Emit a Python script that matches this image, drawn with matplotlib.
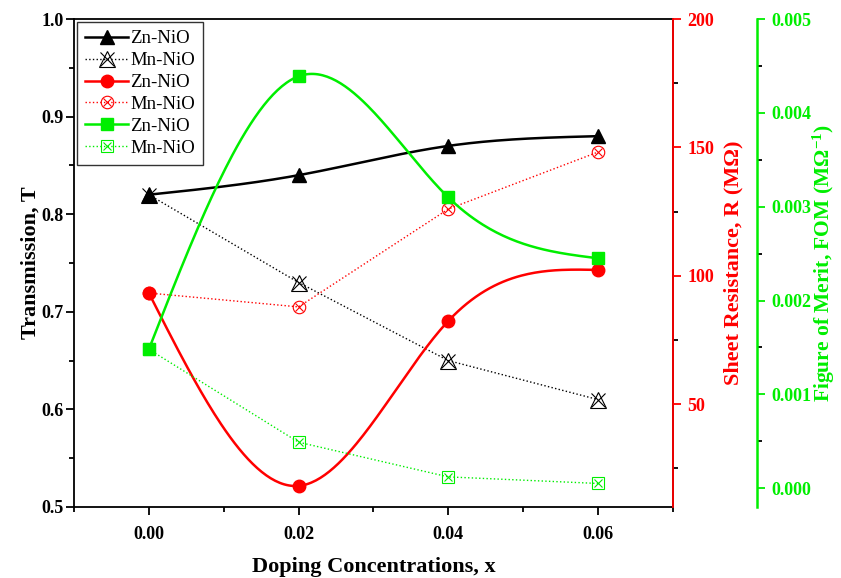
import numpy as np
import matplotlib
matplotlib.use("Agg")
import matplotlib.pyplot as plt
from matplotlib.ticker import MultipleLocator, FormatStrFormatter
from matplotlib.legend_handler import HandlerTuple

plt.rcParams['font.family'] = ['Liberation Serif', 'DejaVu Serif']
plt.rcParams['mathtext.fontset'] = 'custom'
plt.rcParams['mathtext.rm'] = 'Liberation Serif:bold'
plt.rcParams['mathtext.it'] = 'Liberation Serif:bold'
plt.rcParams['mathtext.bf'] = 'Liberation Serif:bold'

# data
x = [0.00, 0.02, 0.04, 0.06]
T_zn = [0.82, 0.84, 0.87, 0.88]
T_mn = [0.82, 0.73, 0.65, 0.61]
R_zn = [93.3, 18.2, 82.4, 102.3]
R_mn = [93.3, 87.9, 126.0, 148.2]
F_zn = [0.00148, 0.00439, 0.00310, 0.00245]
F_mn = [0.00148, 0.00049, 0.00012, 0.00005]

GREEN = '#00ee00'


def spline(xs, ys, n=200):
    # natural cubic spline, for the smooth connecting lines
    xs = np.asarray(xs, float); ys = np.asarray(ys, float)
    k = len(xs); h = np.diff(xs)
    A = np.zeros((k, k)); b = np.zeros(k)
    A[0, 0] = A[-1, -1] = 1
    for i in range(1, k - 1):
        A[i, i - 1] = h[i - 1]; A[i, i] = 2 * (h[i - 1] + h[i]); A[i, i + 1] = h[i]
        b[i] = 6 * ((ys[i + 1] - ys[i]) / h[i] - (ys[i] - ys[i - 1]) / h[i - 1])
    M = np.linalg.solve(A, b)
    xx = np.linspace(xs[0], xs[-1], n)
    idx = np.clip(np.searchsorted(xs, xx) - 1, 0, k - 2)
    x0, x1, hh = xs[idx], xs[idx + 1], h[idx]
    yy = (M[idx] * (x1 - xx) ** 3 + M[idx + 1] * (xx - x0) ** 3) / (6 * hh) \
        + (ys[idx] / hh - M[idx] * hh / 6) * (x1 - xx) \
        + (ys[idx + 1] / hh - M[idx + 1] * hh / 6) * (xx - x0)
    return xx, yy


fig = plt.figure(figsize=(8.41, 5.78), dpi=100)
ax = fig.add_axes([0.088, 0.123, 0.712, 0.844])
ax2 = ax.twinx()
ax3 = ax.twinx()
ax3.spines['right'].set_position(('axes', 1 + 84 / 599))

lw_s, lw_d = 1.8, 1.0
ms = 9

# transmission (black)
xx, yy = spline(x, T_zn)
ax.plot(xx, yy, color='black', lw=lw_s)
ax.plot(x, T_zn, ls='none', marker='^', ms=ms + 1, color='black')
ax.plot(x, T_mn, ls=':', lw=lw_d, color='black', marker='^', ms=ms + 3, mfc='none', mew=0.8)
ax.plot(x, T_mn, ls='none', marker='x', ms=ms + 1, color='black', mew=0.8)

# sheet resistance (red)
xx, yy = spline(x, R_zn)
ax2.plot(xx, yy, color='red', lw=lw_s)
ax2.plot(x, R_zn, ls='none', marker='o', ms=ms, color='red')
ax2.plot(x, R_mn, ls=':', lw=lw_d, color='red', marker='o', ms=ms, mfc='none', mew=0.8)
ax2.plot(x, R_mn, ls='none', marker='x', ms=ms - 3, color='red', mew=0.8)

# figure of merit (green)
xx, yy = spline(x, F_zn)
ax3.plot(xx, yy, color=GREEN, lw=lw_s)
ax3.plot(x, F_zn, ls='none', marker='s', ms=ms - 1, color=GREEN)
ax3.plot(x, F_mn, ls=':', lw=lw_d, color=GREEN, marker='s', ms=ms - 1, mfc='none', mew=0.8)
ax3.plot(x, F_mn, ls='none', marker='x', ms=ms - 3, color=GREEN, mew=0.8)

ax.set_xlim(-0.01, 0.07)
ax.set_ylim(0.5, 1.0)
ax2.set_ylim(10, 200)
ax3.set_ylim(-0.0002, 0.005)

ax.xaxis.set_major_locator(MultipleLocator(0.02))
ax.xaxis.set_minor_locator(MultipleLocator(0.01))
ax.yaxis.set_major_locator(MultipleLocator(0.1))
ax.yaxis.set_minor_locator(MultipleLocator(0.05))
ax2.yaxis.set_major_locator(MultipleLocator(50))
ax2.yaxis.set_minor_locator(MultipleLocator(25))
ax3.yaxis.set_major_locator(MultipleLocator(0.001))
ax3.yaxis.set_minor_locator(MultipleLocator(0.0005))
ax.xaxis.set_major_formatter(FormatStrFormatter('%.2f'))
ax.yaxis.set_major_formatter(FormatStrFormatter('%.1f'))
ax3.yaxis.set_major_formatter(FormatStrFormatter('%.3f'))

for a in (ax, ax2, ax3):
    a.tick_params(which='major', direction='out', length=5.8, width=1.3, labelsize=13, pad=1.5)
    a.tick_params(which='minor', direction='out', length=3.6, width=1.3)
    for lab in a.get_xticklabels() + a.get_yticklabels():
        lab.set_fontweight('bold')
ax.tick_params(axis='x', pad=8)
ax2.tick_params(axis='y', pad=4.5)
ax3.tick_params(axis='y', pad=4.5)

for s in ax.spines.values():
    s.set_linewidth(1.3)
ax2.spines['right'].set_color('red'); ax2.spines['right'].set_linewidth(1.3)
ax2.tick_params(axis='y', colors='red')
ax3.spines['right'].set_color(GREEN); ax3.spines['right'].set_linewidth(1.8)
ax3.tick_params(axis='y', colors=GREEN)
for a in (ax2, ax3):
    for k in ('top', 'left', 'bottom'):
        a.spines[k].set_visible(False)

ax.set_xlabel('Doping Concentrations, x', fontsize=16, fontweight='bold', labelpad=10)
ax.set_ylabel('Transmission, T', fontsize=16, fontweight='bold', labelpad=1)
ax2.set_ylabel('Sheet Resistance, R (MΩ)', fontsize=16, fontweight='bold', color='red', labelpad=7)
ax3.set_ylabel(r'Figure of Merit, FOM (MΩ$^{\mathrm{-1}}$)', fontsize=15.5, fontweight='bold', color=GREEN, labelpad=0)

# legend
h = [
    ax.plot([], [], color='black', lw=lw_s, marker='^', ms=ms + 1)[0],
    (ax.plot([], [], color='black', ls=':', lw=lw_d, marker='^', ms=ms + 3, mfc='none', mew=0.8)[0],
     ax.plot([], [], color='black', ls='none', marker='x', ms=ms + 1, mew=0.8)[0]),
    ax.plot([], [], color='red', lw=lw_s, marker='o', ms=ms)[0],
    (ax.plot([], [], color='red', ls=':', lw=lw_d, marker='o', ms=ms, mfc='none', mew=0.8)[0],
     ax.plot([], [], color='red', ls='none', marker='x', ms=ms - 3, mew=0.8)[0]),
    ax.plot([], [], color=GREEN, lw=lw_s, marker='s', ms=ms - 1)[0],
    (ax.plot([], [], color=GREEN, ls=':', lw=lw_d, marker='s', ms=ms - 1, mfc='none', mew=0.8)[0],
     ax.plot([], [], color=GREEN, ls='none', marker='x', ms=ms - 3, mew=0.8)[0]),
]
labels = ['Zn-NiO', 'Mn-NiO'] * 3
leg = ax3.legend(h, labels, loc='upper left', bbox_to_anchor=(0.0, 1.0),
                 handler_map={tuple: HandlerTuple(ndivide=1, pad=0)},
                 fontsize=13.5, frameon=True, fancybox=False, edgecolor='black',
                 handlelength=2.3, handletextpad=0.1, labelspacing=0.25,
                 borderpad=0.45, borderaxespad=0.15)
leg.get_frame().set_linewidth(1.0)

fig.savefig('out.png', dpi=100)
